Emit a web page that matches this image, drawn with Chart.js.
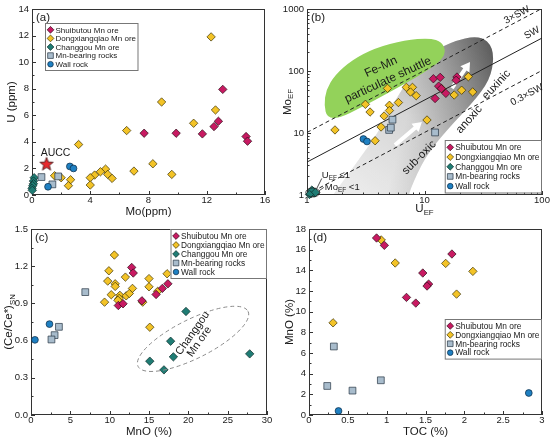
<!DOCTYPE html>
<html>
<head>
<meta charset="utf-8">
<title>Mn ore geochemistry</title>
<script src="https://cdn.jsdelivr.net/npm/chart.js@4.4.1/dist/chart.umd.min.js"></script>
<style>
  html, body { margin: 0; padding: 0; background: #fff; }
  #wrap { position: relative; width: 550px; height: 441px; }
  canvas { position: absolute; }
</style>
</head>
<body>
<div id="wrap">
  <canvas id="panelA" width="275" height="220" style="left:0;top:0"></canvas>
  <canvas id="panelB" width="275" height="220" style="left:275px;top:0"></canvas>
  <canvas id="panelC" width="275" height="221" style="left:0;top:220px"></canvas>
  <canvas id="panelD" width="275" height="221" style="left:275px;top:220px"></canvas>
</div>
<script>
// ---- (a) Mo (ppm) vs U (ppm)
const aShuiMo  = [7.7, 9.9, 11.7, 12.5, 12.8, 13.1, 14.7, 14.8];
const aShuiU   = [4.65, 4.65, 4.6, 5.15, 5.55, 7.95, 4.4, 4.05];
const aDongMo  = [12.3, 8.9, 6.5, 11.1, 12.6, 3.2, 8.3, 7.0, 9.6, 5.05, 4.7, 5.2, 5.5, 4.3, 4.0, 4.0, 2.65, 2.5, 1.55, 2.0];
const aDongU   = [11.9, 7.0, 4.85, 5.4, 6.4, 3.8, 2.35, 1.8, 1.55, 1.95, 1.75, 1.55, 1.25, 1.5, 1.3, 0.75, 1.15, 0.7, 1.45, 1.3];
const aChangMo = [0.15, 0.1, 0.1, 0.05, 0.0, 0.02];
const aChangU  = [1.3, 1.05, 0.85, 0.7, 0.5, 0.35];
const aRockMo  = [0.65, 1.4, 1.8];
const aRockU   = [1.35, 0.8, 1.4];
const aWallMo  = [1.1, 2.6, 2.85];
const aWallU   = [0.62, 2.15, 2.0];
const auccMo   = [1.0];
const auccU    = [2.35];

// ---- (b) U_EF vs Mo_EF (log-log)
const bShuiU   = [11.9, 13.6, 13.2, 12.3, 15.2, 18.9, 18.6, 13.9];
const bShuiMo  = [75, 79, 57, 36, 43.6, 80, 71, 52];
const bDongU   = [1.73, 3.14, 3.44, 4.84, 5.03, 5.03, 6.0, 4.53, 4.27, 3.8, 7.0, 7.9, 7.6, 8.5, 10.5, 14.0, 17.9, 20.7, 23.6, 25.7];
const bDongMo  = [11.2, 29, 21.8, 52.5, 28, 23, 31, 18.8, 12.5, 7.5, 54.5, 54.5, 45.8, 40, 16.2, 52, 41, 49, 81, 46];
const bChangU  = [1.08, 1.12, 1.15, 1.1, 1.18, 1.05];
const bChangMo = [1.05, 1.15, 1.08, 1.2, 1.1, 1.02];
const bRockU   = [5.34, 5.0, 5.17, 12.3];
const bRockMo  = [16.4, 11.2, 12.2, 10.2];
const bWallU   = [3.02, 3.24];
const bWallMo  = [8.0, 7.3];
// seawater Mo/U reference lines
const swU      = [1, 100];
const swMo     = [3.4, 340];
const sw3Mo    = [10.2, 1020];
const sw03Mo   = [1.02, 102];
// outlines of the shaded fields (U_EF, Mo_EF)
const bandU    = [1.57, 1.66, 2.56, 4.18, 5.4, 9.7, 16.5, 29.7, 39, 37.5, 28.5, 15.5, 10.1, 7.5, 7.24];
const bandMo   = [0.83, 1.0, 3.05, 11.2, 30.5, 162, 294, 381, 235, 86, 38, 11.2, 4.1, 1.2, 0.83];
const greenU   = [1.48, 1.40, 1.45, 1.73, 2.41, 3.79, 6.82, 11.1, 14.1, 15.2, 13.5, 9.2, 5.1, 2.83, 1.91];
const greenMo  = [17.5, 28.3, 49.4, 86.2, 150, 235, 316, 341, 294, 202, 140, 86, 45.8, 25.3, 17.5];

// ---- (c) MnO (%) vs (Ce/Ce*)SN
const cShuiMnO  = [12.8, 13.0, 11.1, 11.7, 14.1, 15.9, 16.7, 17.4];
const cShuiCe   = [1.19, 1.145, 0.883, 0.897, 0.921, 0.972, 1.021, 1.058];
const cDongMnO  = [10.6, 9.9, 9.75, 10.7, 10.7, 10.2, 9.35, 11.3, 11.2, 11.05, 12.0, 12.1, 12.5, 12.9, 14.2, 15.0, 15.0, 16.1, 17.3, 15.1];
const cDongCe   = [1.29, 1.163, 1.08, 1.058, 1.037, 0.97, 0.91, 0.965, 0.94, 0.925, 1.112, 0.961, 0.98, 1.021, 0.91, 1.10, 1.034, 0.997, 1.139, 0.708];
const cChangMnO = [19.7, 17.75, 18.1, 15.1, 16.9, 27.8];
const cChangCe  = [0.835, 0.595, 0.469, 0.434, 0.364, 0.493];
const cRockMnO  = [6.9, 3.55, 3.0, 2.6];
const cRockCe   = [0.991, 0.711, 0.644, 0.609];
const cWallMnO  = [2.35, 0.5];
const cWallCe   = [0.733, 0.606];

// ---- (d) TOC (%) vs MnO (%)
const dShuiToc  = [0.87, 0.97, 1.465, 1.54, 1.52, 1.255, 1.375, 1.84];
const dShuiMnO  = [17.13, 16.42, 13.74, 12.67, 12.48, 11.38, 10.83, 15.58];
const dDongToc  = [0.93, 1.11, 1.76, 2.11, 1.9, 0.31];
const dDongMnO  = [16.94, 14.71, 14.67, 13.9, 11.7, 8.92];
const dRockToc  = [0.32, 0.235, 0.56, 0.925];
const dRockMnO  = [6.63, 2.81, 2.36, 3.36];
const dWallToc  = [0.38, 2.83];
const dWallMnO  = [0.39, 2.13];

const FONT = '"Liberation Sans", Arial, Helvetica, sans-serif';
const INK = '#1a1a1a';

const STYLES = {
    shui:  { label: 'Shuibutou Mn ore',     shape: 'rectRot', fill: '#c81a62', edge: '#2b0a17', r: 4.2, lr: 3.4 },
    dong:  { label: 'Dongxiangqiao Mn ore', shape: 'rectRot', fill: '#f3c327', edge: '#3b3000', r: 4.2, lr: 3.4 },
    chang: { label: 'Changgou Mn ore',      shape: 'rectRot', fill: '#1f7c74', edge: '#0d2b28', r: 4.2, lr: 3.4 },
    rock:  { label: 'Mn-bearing rocks',     shape: 'rect',    fill: '#a8bccc', edge: '#263544', r: 4.8, lr: 4.0 },
    wall:  { label: 'Wall rock',            shape: 'circle',  fill: '#1f80c2', edge: '#0b2a44', r: 3.4, lr: 2.8 }
};

function scatterSet(key, xs, ys) {
    const s = STYLES[key];
    return {
        label: s.label,
        data: xs.map((x, i) => ({ x, y: ys[i] })),
        pointStyle: s.shape,
        pointRadius: s.r,
        pointBackgroundColor: s.fill,
        pointBorderColor: s.edge,
        pointBorderWidth: 0.7,
        showLine: false,
        clip: false,
        order: 0
    };
}

function refLine(xs, ys, dash) {
    return {
        type: 'line',
        data: xs.map((x, i) => ({ x, y: ys[i] })),
        borderColor: '#222',
        borderWidth: 1,
        borderDash: dash,
        pointRadius: 0,
        fill: false,
        order: 10
    };
}

// filled red star used as point image for AUCC
function starImage(size) {
    const c = document.createElement('canvas');
    c.width = c.height = size;
    const g = c.getContext('2d');
    const cx = size / 2, cy = size / 2 + 0.6, ro = size / 2 - 1, ri = ro * 0.42;
    g.beginPath();
    for (let i = 0; i < 10; i++) {
        const r = i % 2 ? ri : ro;
        const a = -Math.PI / 2 + i * Math.PI / 5;
        g.lineTo(cx + r * Math.cos(a), cy + r * Math.sin(a));
    }
    g.closePath();
    g.fillStyle = '#e8282c';
    g.fill();
    g.lineWidth = 0.8;
    g.strokeStyle = '#3a0a0a';
    g.stroke();
    return c;
}

function drawMarker(ctx, shape, x, y, r, fill, edge) {
    ctx.beginPath();
    if (shape === 'rectRot') {
        ctx.moveTo(x, y - r); ctx.lineTo(x + r, y); ctx.lineTo(x, y + r); ctx.lineTo(x - r, y);
        ctx.closePath();
    } else if (shape === 'rect') {
        const h = r * Math.SQRT1_2;
        ctx.rect(x - h, y - h, 2 * h, 2 * h);
    } else {
        ctx.arc(x, y, r, 0, Math.PI * 2);
    }
    ctx.fillStyle = fill;
    ctx.fill();
    ctx.lineWidth = 0.7;
    ctx.strokeStyle = edge;
    ctx.stroke();
}

// text with subscript parts: [[text, isSub], ...]
function richText(ctx, parts, x, y, size, align) {
    const sub = size * 0.68;
    const ws = parts.map(([t, s]) => { ctx.font = `${s ? sub : size}px ${FONT}`; return ctx.measureText(t).width; });
    const total = ws.reduce((a, b) => a + b, 0);
    let cx = align === 'center' ? x - total / 2 : x;
    ctx.textAlign = 'left';
    ctx.textBaseline = 'middle';
    parts.forEach(([t, s], i) => {
        ctx.font = `${s ? sub : size}px ${FONT}`;
        ctx.fillText(t, cx, s ? y + size * 0.3 : y);
        cx += ws[i];
    });
}

function rotText(ctx, text, x, y, deg, size) {
    ctx.save();
    ctx.translate(x, y);
    ctx.rotate(deg * Math.PI / 180);
    ctx.font = `${size}px ${FONT}`;
    ctx.fillStyle = INK;
    ctx.textAlign = 'center';
    ctx.textBaseline = 'middle';
    ctx.fillText(text, 0, 0);
    ctx.restore();
}

function smoothPath(ctx, pts) {
    const n = pts.length;
    const mid = (p, q) => [(p[0] + q[0]) / 2, (p[1] + q[1]) / 2];
    const m = mid(pts[n - 1], pts[0]);
    ctx.beginPath();
    ctx.moveTo(m[0], m[1]);
    for (let i = 0; i < n; i++) {
        const q = mid(pts[i], pts[(i + 1) % n]);
        ctx.quadraticCurveTo(pts[i][0], pts[i][1], q[0], q[1]);
    }
    ctx.closePath();
}

function whiteArrow(ctx, x1, y1, x2, y2) {
    const ang = Math.atan2(y2 - y1, x2 - x1), len = Math.hypot(x2 - x1, y2 - y1);
    const hl = 9, hw = 5.5, sw = 2;
    ctx.save();
    ctx.translate(x1, y1);
    ctx.rotate(ang);
    ctx.beginPath();
    ctx.moveTo(0, -sw); ctx.lineTo(len - hl, -sw); ctx.lineTo(len - hl, -hw);
    ctx.lineTo(len, 0); ctx.lineTo(len - hl, hw); ctx.lineTo(len - hl, sw); ctx.lineTo(0, sw);
    ctx.closePath();
    ctx.fillStyle = '#fff';
    ctx.fill();
    ctx.restore();
}

function drawLegend(ctx, area, lg) {
    ctx.font = `${lg.size}px ${FONT}`;
    const textW = Math.max(...lg.keys.map(k => ctx.measureText(STYLES[k].label).width));
    const w = textW + 13, h = lg.keys.length * lg.lineH + 4;
    const left = lg.right !== undefined ? area.right - lg.right - w : area.left + lg.left;
    const top = area.top + lg.top;
    ctx.fillStyle = '#fff';
    ctx.fillRect(left, top, w, h);
    ctx.strokeStyle = '#777';
    ctx.lineWidth = 1;
    ctx.strokeRect(left + 0.5, top + 0.5, w - 1, h);
    lg.keys.forEach((k, i) => {
        const s = STYLES[k];
        const cy = top + 2.5 + lg.lineH * (i + 0.5);
        drawMarker(ctx, s.shape, left + 5.5, cy, s.lr, s.fill, s.edge);
        ctx.font = `${lg.size}px ${FONT}`;
        ctx.fillStyle = INK;
        ctx.textAlign = 'left';
        ctx.textBaseline = 'middle';
        ctx.fillText(s.label, left + 10.5, cy + 0.5);
    });
}

function tickSets(scale, kind) {
    const major = scale.ticks.map(t => t.value);
    const minor = [];
    if (kind === 'log') {
        for (let d = scale.min; d < scale.max; d *= 10) {
            for (let k = 2; k <= 9; k++) minor.push(d * k);
        }
    } else {
        for (let i = 0; i < major.length - 1; i++) minor.push((major[i] + major[i + 1]) / 2);
    }
    return { major, minor };
}

const DECOR = {};

const panelDecor = {
    id: 'panelDecor',
    beforeDatasetsDraw(chart) {
        const d = DECOR[chart.canvas.id];
        if (!d) return;
        const { ctx, chartArea: a, scales: { x, y } } = chart;
        if (d.under) {
            ctx.save();
            ctx.beginPath();
            ctx.rect(a.left, a.top, a.right - a.left, a.bottom - a.top);
            ctx.clip();
            d.under(chart);
            ctx.restore();
        }
        ctx.save();
        ctx.strokeStyle = '#333';
        ctx.lineWidth = 1;
        ctx.strokeRect(a.left + 0.5, a.top + 0.5, a.right - a.left - 1, a.bottom - a.top - 1);
        // inward tick marks on bottom and left axes
        const xt = tickSets(x, d.xKind), yt = tickSets(y, d.yKind);
        ctx.beginPath();
        xt.major.forEach(v => { const p = Math.round(x.getPixelForValue(v)) + 0.5; ctx.moveTo(p, a.bottom); ctx.lineTo(p, a.bottom - 4); });
        xt.minor.forEach(v => { const p = Math.round(x.getPixelForValue(v)) + 0.5; ctx.moveTo(p, a.bottom); ctx.lineTo(p, a.bottom - 2.5); });
        yt.major.forEach(v => { const p = Math.round(y.getPixelForValue(v)) + 0.5; ctx.moveTo(a.left, p); ctx.lineTo(a.left + 4, p); });
        yt.minor.forEach(v => { const p = Math.round(y.getPixelForValue(v)) + 0.5; ctx.moveTo(a.left, p); ctx.lineTo(a.left + 2.5, p); });
        ctx.stroke();
        // axis titles
        ctx.fillStyle = INK;
        richText(ctx, d.xTitle, (a.left + a.right) / 2, d.xTitleY, 11.5, 'center');
        ctx.save();
        ctx.translate(d.yTitleX, (a.top + a.bottom) / 2);
        ctx.rotate(-Math.PI / 2);
        richText(ctx, d.yTitle, 0, 0, 11.5, 'center');
        ctx.restore();
        // panel letter
        ctx.font = `11.5px ${FONT}`;
        ctx.textAlign = 'left';
        ctx.textBaseline = 'alphabetic';
        ctx.fillText(d.tag, a.left + 4, a.top + 12);
        ctx.restore();
    },
    afterDatasetsDraw(chart) {
        const d = DECOR[chart.canvas.id];
        if (!d) return;
        const { ctx, chartArea: a } = chart;
        ctx.save();
        if (d.over) d.over(chart);
        drawLegend(ctx, a, d.legend);
        ctx.restore();
    }
};
Chart.register(panelDecor);

const tickFont = { family: FONT, size: 9.5 };
const fmt = v => String(+Number(v).toFixed(2));

function linAxis(min, max, step, fit, label, pad) {
    return {
        type: 'linear', min, max,
        grid: { display: false, drawTicks: false },
        border: { display: false },
        ticks: { stepSize: step, color: INK, font: tickFont, padding: pad, maxRotation: 0, autoSkip: false, callback: label || fmt },
        afterFit: fit
    };
}

function logAxis(min, max, fit, pad) {
    const decades = [];
    for (let v = min; v <= max; v *= 10) decades.push(v);
    return {
        type: 'logarithmic', min, max,
        grid: { display: false, drawTicks: false },
        border: { display: false },
        ticks: { color: INK, font: tickFont, padding: pad, maxRotation: 0, autoSkip: false, callback: v => String(v) },
        afterBuildTicks: s => { s.ticks = decades.map(v => ({ value: v })); },
        afterFit: fit
    };
}

function makePanel(id, cfg) {
    DECOR[id] = cfg.decor;
    return new Chart(document.getElementById(id), {
        type: 'scatter',
        data: { datasets: cfg.datasets },
        options: {
            responsive: false,
            animation: false,
            events: [],
            layout: { padding: { top: cfg.padTop, right: cfg.padRight, left: 0, bottom: 0 } },
            plugins: { legend: { display: false }, tooltip: { enabled: false } },
            scales: { x: cfg.x, y: cfg.y }
        }
    });
}

const fitH = h => s => { s.height = h; };
const fitW = w => s => { s.width = w; };
const ALL5 = ['shui', 'dong', 'chang', 'rock', 'wall'];

// (a)
const auccSet = scatterSet('shui', auccMo, auccU);
auccSet.pointStyle = starImage(16);
auccSet.pointRadius = 8;
makePanel('panelA', {
    padTop: 9, padRight: 10,
    x: linAxis(0, 16, 4, fitH(25), null, 0),
    y: linAxis(0, 14, 2, fitW(32), null, 3),
    datasets: [
        scatterSet('shui', aShuiMo, aShuiU),
        scatterSet('wall', aWallMo, aWallU),
        scatterSet('rock', aRockMo, aRockU),
        scatterSet('chang', aChangMo, aChangU),
        scatterSet('dong', aDongMo, aDongU),
        auccSet
    ],
    decor: {
        tag: '(a)', xKind: 'lin', yKind: 'lin',
        xTitle: [['Mo(ppm)']], xTitleY: 211.5,
        yTitle: [['U (ppm)']], yTitleX: 11.5,
        legend: { keys: ALL5, left: 13, top: 14, lineH: 8.6, size: 8 },
        over(chart) {
            const { ctx, scales: { x, y } } = chart;
            ctx.font = `10.5px ${FONT}`;
            ctx.fillStyle = INK;
            ctx.textAlign = 'center';
            ctx.textBaseline = 'middle';
            ctx.fillText('AUCC', x.getPixelForValue(auccMo[0]) + 9, y.getPixelForValue(auccU[0]) - 11);
        }
    }
});

// (b)
makePanel('panelB', {
    padTop: 9, padRight: 8,
    x: logAxis(1, 100, fitH(25), 0),
    y: logAxis(1, 1000, fitW(32), 3),
    datasets: [
        scatterSet('shui', bShuiU, bShuiMo),
        scatterSet('wall', bWallU, bWallMo),
        scatterSet('rock', bRockU, bRockMo),
        scatterSet('chang', bChangU, bChangMo),
        scatterSet('dong', bDongU, bDongMo),
        refLine(swU, swMo, []),
        refLine(swU, sw3Mo, [4, 3]),
        refLine(swU, sw03Mo, [4, 3])
    ],
    decor: {
        tag: '(b)', xKind: 'log', yKind: 'log',
        xTitle: [['U'], ['EF', true]], xTitleY: 209,
        yTitle: [['Mo'], ['EF', true]], yTitleX: 12.5,
        legend: { keys: ALL5, right: 0, top: 131, lineH: 9.7, size: 8.4 },
        under(chart) {
            const { ctx, scales: { x, y } } = chart;
            const P = (u, m) => [x.getPixelForValue(u), y.getPixelForValue(m)];
            // redox band: light along the sub-oxic end, dark at the euxinic end
            const band = bandU.map((u, i) => P(u, bandMo[i]));
            const g0 = P(3, 1), g1 = P(33, 330);
            const grad = ctx.createLinearGradient(g0[0], g0[1], g1[0], g1[1]);
            grad.addColorStop(0, '#e6e6e6');
            grad.addColorStop(0.45, '#cdcdcd');
            grad.addColorStop(0.7, '#a6a6a6');
            grad.addColorStop(1, '#6a6a6a');
            smoothPath(ctx, band);
            ctx.fillStyle = grad;
            ctx.fill();
            const c0 = P(9, 120), c1 = P(38, 60);
            const side = ctx.createLinearGradient(c0[0], c0[1], c1[0], c1[1]);
            side.addColorStop(0, 'rgba(255,255,255,0.18)');
            side.addColorStop(1, 'rgba(0,0,0,0.22)');
            ctx.fillStyle = side;
            ctx.fill();
            let t = P(5.61, 6.4), h = P(9.5, 15);
            whiteArrow(ctx, t[0], t[1], h[0], h[1]);
            t = P(17.1, 53); h = P(24.4, 140);
            whiteArrow(ctx, t[0], t[1], h[0], h[1]);
            // Fe-Mn shuttle field
            smoothPath(ctx, greenU.map((u, i) => P(u, greenMo[i])));
            ctx.fillStyle = '#93d25a';
            ctx.fill();
            let p = P(4.26, 116); rotText(ctx, 'Fe-Mn', p[0], p[1], -25, 12);
            p = P(4.89, 71.6); rotText(ctx, 'particulate shuttle', p[0], p[1], -25, 12);
            p = P(9.0, 4.0); rotText(ctx, 'sub-oxic', p[0], p[1], -45, 11.5);
        },
        over(chart) {
            const { ctx, scales: { x, y } } = chart;
            const P = (u, m) => [x.getPixelForValue(u), y.getPixelForValue(m)];
            let p = P(24, 16.5); rotText(ctx, 'anoxic', p[0], p[1], -48, 11.5);
            p = P(41, 60); rotText(ctx, 'euxinic', p[0], p[1], -47, 11.5);
            p = P(61.2, 800); rotText(ctx, '3×SW', p[0], p[1], -28, 10);
            p = P(82.2, 410); rotText(ctx, 'SW', p[0], p[1], -28, 10);
            p = P(74.5, 41); rotText(ctx, '0.3×SW', p[0], p[1], -28, 10);
            // near-unity enrichment cluster
            const c = P(1.12, 1.1);
            ctx.strokeStyle = '#222';
            ctx.lineWidth = 0.8;
            ctx.beginPath();
            ctx.ellipse(c[0], c[1], 7, 4.5, 0, 0, Math.PI * 2);
            ctx.stroke();
            ctx.beginPath();
            ctx.moveTo(c[0] + 9, c[1] - 14); ctx.lineTo(c[0] + 4, c[1] - 4);
            ctx.moveTo(c[0] + 11, c[1] - 5); ctx.lineTo(c[0] + 6, c[1] - 1.5);
            ctx.stroke();
            ctx.fillStyle = INK;
            richText(ctx, [['U'], ['EF', true], [' ≤1']], c[0] + 9, c[1] - 17, 9.5, 'left');
            richText(ctx, [['Mo'], ['EF', true], [' <1']], c[0] + 12, c[1] - 5.5, 9.5, 'left');
        }
    }
});

// (c)
makePanel('panelC', {
    padTop: 9, padRight: 8,
    x: linAxis(0, 30, 5, fitH(26), null, 0),
    y: linAxis(0, 1.5, 0.3, fitW(31), v => Number(v).toFixed(1), 3),
    datasets: [
        scatterSet('shui', cShuiMnO, cShuiCe),
        scatterSet('wall', cWallMnO, cWallCe),
        scatterSet('rock', cRockMnO, cRockCe),
        scatterSet('chang', cChangMnO, cChangCe),
        scatterSet('dong', cDongMnO, cDongCe)
    ],
    decor: {
        tag: '(c)', xKind: 'lin', yKind: 'lin',
        xTitle: [['MnO (%)']], xTitleY: 211.5,
        yTitle: [['(Ce/Ce*)'], ['SN', true]], yTitleX: 9,
        legend: { keys: ALL5, right: 0, top: 0, lineH: 9, size: 8.3 },
        over(chart) {
            const { ctx, scales: { x, y } } = chart;
            const cx = x.getPixelForValue(20.6), cy = y.getPixelForValue(0.614);
            ctx.strokeStyle = '#8a8a8a';
            ctx.lineWidth = 1;
            ctx.setLineDash([4, 3]);
            ctx.beginPath();
            ctx.ellipse(cx, cy, 61.5, 19.5, -26.6 * Math.PI / 180, 0, Math.PI * 2);
            ctx.stroke();
            ctx.setLineDash([]);
            rotText(ctx, 'Changgou', x.getPixelForValue(20.55), y.getPixelForValue(0.659), -55, 11);
            rotText(ctx, 'Mn ore', x.getPixelForValue(21.4), y.getPixelForValue(0.591), -55, 11);
        }
    }
});

// (d)
makePanel('panelD', {
    padTop: 9, padRight: 8,
    x: linAxis(0, 3, 0.5, fitH(26), null, 0),
    y: linAxis(0, 18, 2, fitW(34), null, 3),
    datasets: [
        scatterSet('shui', dShuiToc, dShuiMnO),
        scatterSet('wall', dWallToc, dWallMnO),
        scatterSet('rock', dRockToc, dRockMnO),
        scatterSet('dong', dDongToc, dDongMnO)
    ],
    decor: {
        tag: '(d)', xKind: 'lin', yKind: 'lin',
        xTitle: [['TOC (%)']], xTitleY: 211.5,
        yTitle: [['MnO (%)']], yTitleX: 15,
        legend: { keys: ['shui', 'dong', 'rock', 'wall'], right: 0, top: 90, lineH: 8.9, size: 8.4 }
    }
});
</script>
</body>
</html>
